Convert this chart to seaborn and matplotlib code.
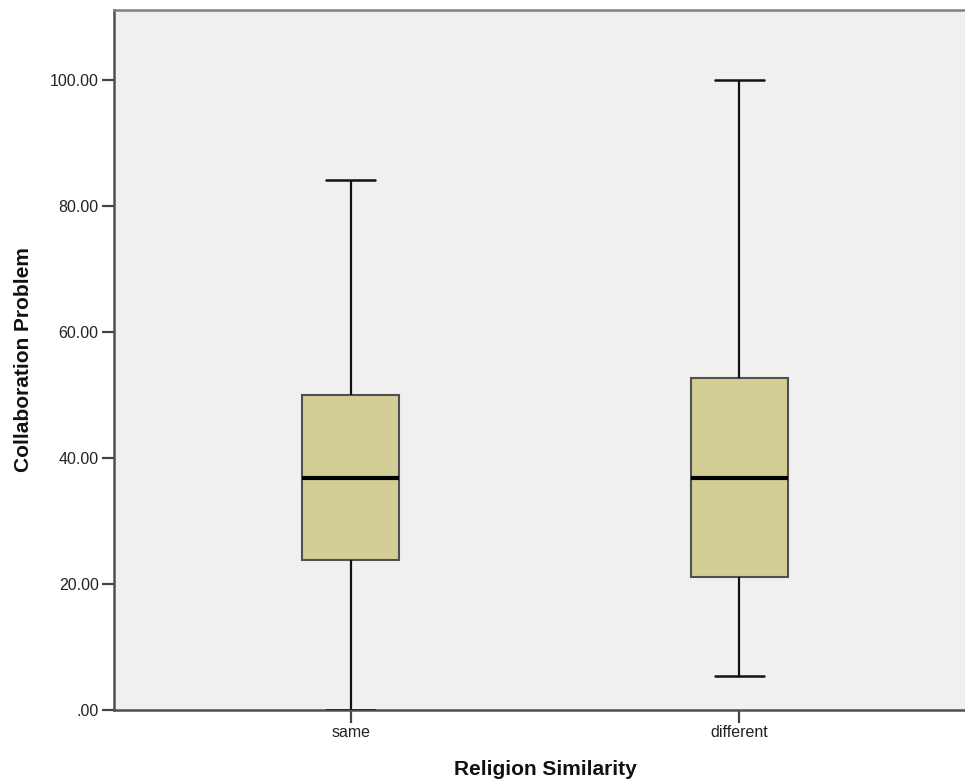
import matplotlib
matplotlib.use("Agg")
import matplotlib.pyplot as plt
import seaborn as sns
import pandas as pd
import numpy as np

# Data: five-number summaries per category (min, Q1, median, Q3, max)
categories = ["same", "different"]
same_values = [0.0, 23.75, 36.87, 50.0, 84.13]
different_values = [5.40, 21.16, 36.87, 52.65, 100.0]
y_ticks = [0, 20, 40, 60, 80, 100]
y_tick_labels = [".00", "20.00", "40.00", "60.00", "80.00", "100.00"]

df = pd.DataFrame({
    "Religion Similarity": [categories[0]] * len(same_values) + [categories[1]] * len(different_values),
    "Collaboration Problem": same_values + different_values,
})

sns.set_theme(style="white")
plt.rcParams["font.family"] = ["Liberation Sans", "DejaVu Sans"]

fig = plt.figure(figsize=(9.65, 7.83), dpi=100)
ax = fig.add_axes([114 / 965, 1 - 710 / 783, (976 - 114) / 965, 700 / 783])
ax.set_facecolor("#F0F0EF")

sns.boxplot(
    data=df, x="Religion Similarity", y="Collaboration Problem",
    order=categories, whis=np.inf, width=0.25,
    color="#D3CE96", saturation=1, ax=ax,
    boxprops=dict(edgecolor="#505050", linewidth=1.5),
    whiskerprops=dict(color="#111111", linewidth=1.6),
    capprops=dict(color="#111111", linewidth=1.8, zorder=5),
    medianprops=dict(color="black", linewidth=3),
    showfliers=False,
)

ax.set_xlim(-0.609, 1.609)
ax.set_ylim(0, 111.11)
ax.set_yticks(y_ticks)
ax.set_yticklabels(y_tick_labels)

for side in ["left", "bottom", "top", "right"]:
    ax.spines[side].set_visible(True)
    ax.spines[side].set_linewidth(1.8)
ax.spines["left"].set_color("#505050")
ax.spines["bottom"].set_color("#505050")
ax.spines["top"].set_color("#808080")
ax.spines["right"].set_color("#808080")

ax.tick_params(axis="both", direction="out", length=9, width=1.6, color="#444444",
               labelsize=11.5, labelcolor="#222222", left=True, bottom=True, pad=2)

ax.set_xlabel("Religion Similarity", fontsize=15, fontweight="bold", color="#111111", labelpad=14)
ax.set_ylabel("Collaboration Problem", fontsize=15, fontweight="bold", color="#111111", labelpad=12)

fig.savefig("out.png", dpi=100)
